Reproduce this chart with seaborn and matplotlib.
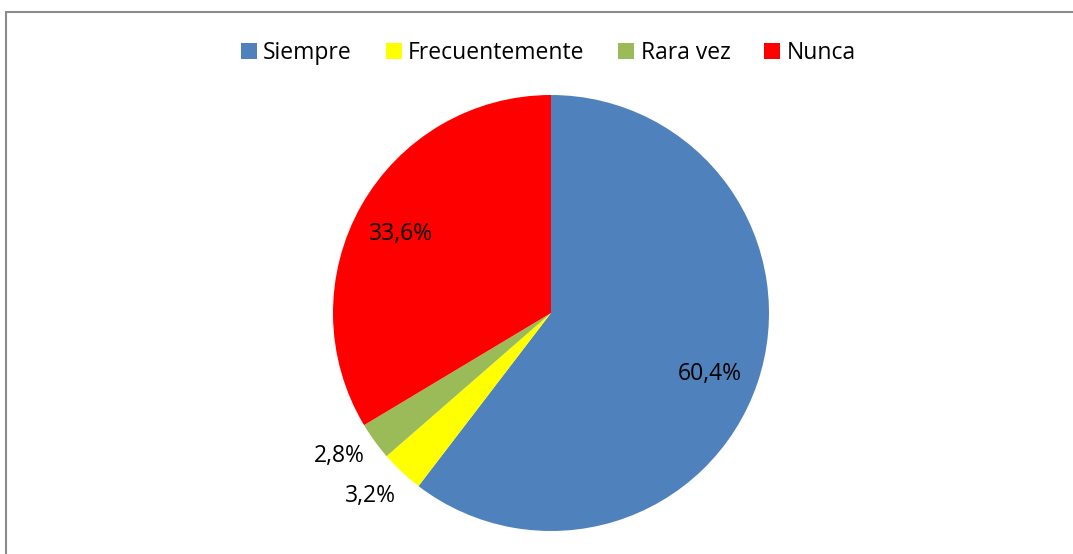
import numpy as np
import matplotlib
matplotlib.use("Agg")
import matplotlib.pyplot as plt
from matplotlib.lines import Line2D
import seaborn as sns

# Data
categories = ["Siempre", "Frecuentemente", "Rara vez", "Nunca"]
values = [60.4, 3.2, 2.8, 33.6]
labels = ["60,4%", "3,2%", "2,8%", "33,6%"]
colors = ["#4F81BD", "#FFFF00", "#9BBB59", "#FF0000"]

sns.set_theme(style="white")
plt.rcParams["font.family"] = ["Open Sans", "DejaVu Sans"]

W, H = 1073, 554
fig = plt.figure(figsize=(W / 100, H / 100), dpi=100)
fig.patch.set_facecolor("white")

# pie axes: centre (551, 313) px, radius ~218 px
cx, cy, r = 551, 313, 218
ax = fig.add_axes([(cx - r) / W, (H - cy - r) / H, 2 * r / W, 2 * r / H])
wedges, _ = ax.pie(values, colors=colors, startangle=90, counterclock=False,
                   radius=1, wedgeprops=dict(linewidth=0))
ax.set_xlim(-1, 1)
ax.set_ylim(-1, 1)
ax.set_aspect("equal")
ax.axis("off")

fs = 16.5

# value labels: big slices inside, small slices outside (Excel-like placement)
label_dist = [0.78, 1.18, 1.17, 0.78]
label_turn = [-2.3, -1.5, -1.9, 1.7]  # degrees
for w, lab, d, t in zip(wedges, labels, label_dist, label_turn):
    ang = np.deg2rad((w.theta1 + w.theta2) / 2 + t)
    ax.text(d * np.cos(ang), d * np.sin(ang), lab, ha="center",
            va="center", fontsize=fs, color="black", clip_on=False)

# legend across the top
handles = [Line2D([], [], marker="s", linestyle="none", markersize=11,
                  markerfacecolor=c, markeredgewidth=0) for c in colors]
fig.legend(handles, categories, loc="center", bbox_to_anchor=(548 / W, 1 - 53 / H),
           ncol=4, frameon=False, fontsize=fs, labelcolor="black",
           handlelength=0.75, handletextpad=0.25, columnspacing=1.45, borderpad=0)

# chart frame (only left and top edges visible in the crop)
frame = "#8c8c8c"
fig.add_artist(Line2D([6 / W, 6 / W], [0, 1 - 12 / H], transform=fig.transFigure,
                      color=frame, linewidth=1.5))
fig.add_artist(Line2D([6 / W, 1], [1 - 12 / H, 1 - 12 / H], transform=fig.transFigure,
                      color=frame, linewidth=1.5))

fig.savefig("out.png", dpi=100, facecolor="white")
